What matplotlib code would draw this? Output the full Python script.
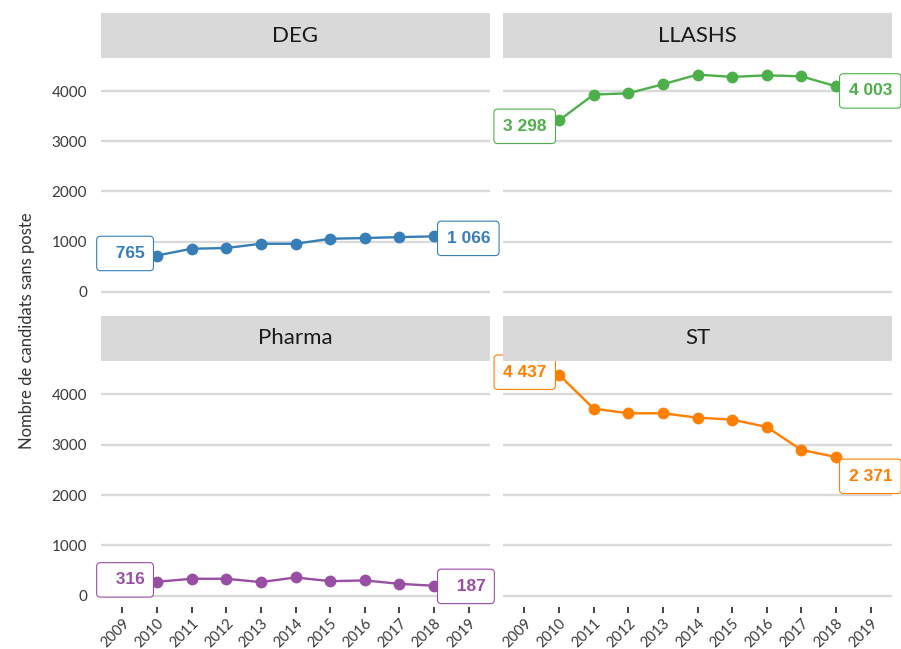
import matplotlib
matplotlib.use("Agg")
import matplotlib.pyplot as plt
from matplotlib.patches import BoxStyle, Rectangle

W, H = 901, 649

years = [2010, 2011, 2012, 2013, 2014, 2015, 2016, 2017, 2018]
tick_years = list(range(2009, 2020))

facets = ["DEG", "LLASHS", "Pharma", "ST"]
deg = [724, 859, 873, 958, 958, 1058, 1072, 1091, 1105]
llashs = [3415, 3930, 3956, 4135, 4328, 4282, 4314, 4294, 4095]
pharma = [278, 338, 338, 272, 364, 291, 305, 238, 199]
st = [4389, 3714, 3622, 3622, 3535, 3496, 3350, 2894, 2755]
series = [deg, llashs, pharma, st]

# values printed in the boxes at both ends of each line
first_label = [765, 3298, 316, 4437]
last_label = [1066, 4003, 187, 2371]

colors = ["#377EB8", "#4DAF4A", "#984EA3", "#FF7F00"]

# pixel layout of the facet grid
COLS = [(101, 490), (503, 892)]
STRIPS = [(13, 58), (316, 361)]
PANELS = [(58, 303), (361, 607)]


def frac(x0, x1, y0, y1):
    return [x0 / W, 1 - y1 / H, (x1 - x0) / W, (y1 - y0) / H]


def label_box(x0, y0, width, height, mutation_size):
    padx = 0.52 * mutation_size
    pady = 0.56 * mutation_size
    rnd = BoxStyle.Round(pad=0, rounding_size=0.22)
    return rnd(x0 - padx, y0 - pady, width + 2 * padx, height + 2 * pady, mutation_size)


def fmt(v):
    return f"{v:,}".replace(",", " ")


# R's format() pads every label to a common width
all_labels = [fmt(v) for v in first_label + last_label]
width = max(len(s) for s in all_labels)

fig = plt.figure(figsize=(W / 100, H / 100), dpi=100)

for i, name in enumerate(facets):
    col, row = i % 2, i // 2
    x0, x1 = COLS[col]
    sy0, sy1 = STRIPS[row]
    py0, py1 = PANELS[row]
    color = colors[i]

    fig.add_artist(Rectangle((x0 / W, 1 - sy1 / H), (x1 - x0) / W, (sy1 - sy0) / H,
                             transform=fig.transFigure, facecolor="#d9d9d9",
                             edgecolor="none"))
    fig.text((x0 + x1) / 2 / W, 1 - (sy0 + sy1) / 2 / H, name, ha="center",
             va="center", fontsize=16, family="Lato", color="#1a1a1a")

    ax = fig.add_axes(frac(x0, x1, py0, py1))
    ax.set_facecolor("none")
    for s in ax.spines.values():
        s.set_visible(False)
    ax.set_xlim(2008.385, 2019.615)
    ax.set_ylim(-222, 4659)
    ax.set_yticks([0, 1000, 2000, 3000, 4000])
    ax.set_xticks(tick_years)
    ax.yaxis.grid(True, color="#d9d9d9", lw=1.7)
    ax.set_axisbelow(True)

    ax.plot(years, series[i], color=color, lw=1.7, marker="o", ms=8.5,
            mew=0, zorder=3)

    ax.annotate(all_labels[i].rjust(width), (years[0], first_label[i]),
                xytext=(-9, 0), textcoords="offset points", ha="right", va="center",
                fontsize=12.5, fontweight="bold", family="Liberation Sans",
                color=color, zorder=5,
                bbox=dict(boxstyle=label_box, fc="white", ec=color, lw=0.8))
    ax.annotate(all_labels[i + 4].rjust(width), (years[-1], last_label[i]),
                xytext=(9, 0), textcoords="offset points", ha="left", va="center",
                fontsize=12.5, fontweight="bold", family="Liberation Sans",
                color=color, zorder=5,
                bbox=dict(boxstyle=label_box, fc="white", ec=color, lw=0.8))

    ax.tick_params(axis="y", length=0, pad=10, labelsize=11, labelcolor="#3a3a3a")
    for t in ax.get_yticklabels():
        t.set_family("Lato")
    if col == 1:
        ax.tick_params(axis="y", labelleft=False)

    if row == 0:
        ax.tick_params(axis="x", bottom=False, labelbottom=False)
    else:
        ax.tick_params(axis="x", length=4.5, width=1.3, color="#333333", pad=2,
                       labelsize=10.5, labelcolor="#3a3a3a")
        for t in ax.get_xticklabels():
            t.set_family("Lato")
            t.set_rotation(45)
            t.set_ha("right")
            t.set_va("top")
            t.set_rotation_mode("anchor")

fig.text(27 / W, 1 - 331 / H, "Nombre de candidats sans poste", rotation=90,
         ha="center", va="center", fontsize=12, family="Lato", color="#333333")

fig.savefig("out.png", dpi=100)
